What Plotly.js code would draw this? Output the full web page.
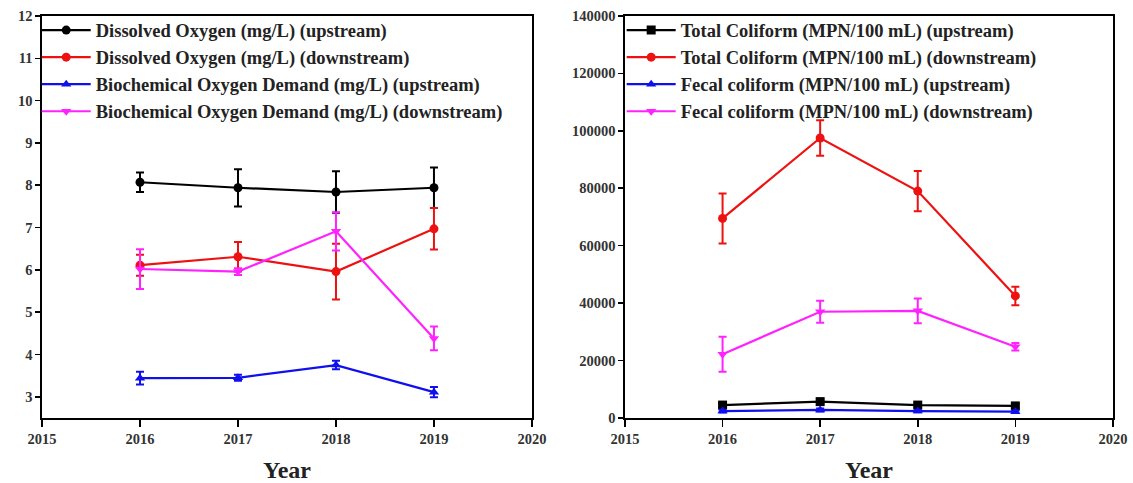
<!DOCTYPE html>
<html>
<head>
<meta charset="utf-8">
<script src="https://cdn.plot.ly/plotly-3.0.1.min.js"></script>
<style>
  html, body { margin: 0; padding: 0; background: #fff; }
  #chart { width: 1133px; height: 483px; }
</style>
</head>
<body>
<div id="chart"></div>
<script>
// Sampling years
const years = [2016, 2017, 2018, 2019];

// Left panel: oxygen parameters (mg/L), mean and standard deviation
const doUp      = [8.07, 7.94, 7.84, 7.94];
const doUpErr   = [0.23, 0.44, 0.49, 0.48];
const doDown    = [6.11, 6.31, 5.96, 6.97];
const doDownErr = [0.25, 0.35, 0.66, 0.49];
const bodUp      = [3.44, 3.45, 3.75, 3.11];
const bodUpErr   = [0.15, 0.07, 0.10, 0.12];
const bodDown    = [6.02, 5.96, 6.91, 4.38];
const bodDownErr = [0.47, 0.08, 0.45, 0.28];

// Right panel: coliform counts (MPN/100 mL), mean and standard deviation
const tcUp      = [4500, 5700, 4500, 4200];
const tcUpErr   = [700, 800, 600, 600];
const tcDown    = [69500, 97500, 79000, 42500];
const tcDownErr = [8700, 6200, 7000, 3200];
const fcUp      = [2400, 2800, 2400, 2200];
const fcUpErr   = [500, 500, 400, 400];
const fcDown    = [22200, 37000, 37300, 24800];
const fcDownErr = [6100, 3800, 4300, 1300];

const FONT = 'Liberation Serif, Times New Roman, serif';
const COL = { black: '#000000', red: '#ee1111', blue: '#1010ee', magenta: '#ff22ff' };

function series(name, y, err, color, symbol, xa, ya, legend) {
  return {
    type: 'scatter', mode: 'lines+markers', name: name,
    x: years, y: y, xaxis: xa, yaxis: ya, legend: legend,
    line: { color: color, width: 2.2 },
    marker: { color: color, symbol: symbol, size: 9 },
    error_y: { type: 'data', array: err, visible: true, color: color, thickness: 2, width: 4 }
  };
}

const traces = [
  series('Dissolved Oxygen (mg/L) (upstream)', doUp, doUpErr, COL.black, 'circle', 'x', 'y', 'legend'),
  series('Dissolved Oxygen (mg/L) (downstream)', doDown, doDownErr, COL.red, 'circle', 'x', 'y', 'legend'),
  series('Biochemical Oxygen Demand (mg/L) (upstream)', bodUp, bodUpErr, COL.blue, 'triangle-up', 'x', 'y', 'legend'),
  series('Biochemical Oxygen Demand (mg/L) (downstream)', bodDown, bodDownErr, COL.magenta, 'triangle-down', 'x', 'y', 'legend'),
  series('Total Coliform (MPN/100 mL) (upstream)', tcUp, tcUpErr, COL.black, 'square', 'x2', 'y2', 'legend2'),
  series('Total Coliform (MPN/100 mL) (downstream)', tcDown, tcDownErr, COL.red, 'circle', 'x2', 'y2', 'legend2'),
  series('Fecal coliform (MPN/100 mL) (upstream)', fcUp, fcUpErr, COL.blue, 'triangle-up', 'x2', 'y2', 'legend2'),
  series('Fecal coliform (MPN/100 mL) (downstream)', fcDown, fcDownErr, COL.magenta, 'triangle-down', 'x2', 'y2', 'legend2')
];

const tickFont = { family: FONT, size: 14.5, color: '#333', weight: 'bold' };
const titleFont = { family: FONT, size: 24, color: '#222', weight: 'bold' };

function xAxis(domain, anchor) {
  return {
    domain: domain, anchor: anchor, range: [2015, 2020], dtick: 1, tick0: 2015,
    ticks: 'outside', ticklen: 7, tickwidth: 1.5, tickcolor: '#000',
    showline: true, linecolor: '#000', linewidth: 1.6, mirror: true,
    showgrid: false, zeroline: false, automargin: false,
    tickfont: tickFont, tickformat: 'd',
    title: { text: 'Year', font: titleFont, standoff: 16 }
  };
}
function yAxis(range, dtick, anchor) {
  return {
    domain: [0.1346, 0.967], anchor: anchor, range: range, dtick: dtick, tick0: 0,
    ticks: 'outside', ticklen: 5, tickwidth: 1.5, tickcolor: '#000',
    showline: true, linecolor: '#000', linewidth: 1.6, mirror: true,
    showgrid: false, zeroline: false, automargin: false,
    tickfont: tickFont, tickformat: 'd'
  };
}

const legendBase = {
  yanchor: 'top', xanchor: 'left', bgcolor: 'rgba(0,0,0,0)', borderwidth: 0,
  font: { family: FONT, size: 18.5, color: '#222', weight: 'bold' },
  tracegroupgap: 0, itemwidth: 49
};

const layout = {
  width: 1133, height: 483,
  margin: { l: 0, r: 0, t: 0, b: 0 },
  paper_bgcolor: '#fff', plot_bgcolor: '#fff',
  showlegend: true,
  xaxis: xAxis([0.0371, 0.4695], 'y'),
  yaxis: yAxis([2.5, 12], 1, 'x'),
  xaxis2: xAxis([0.5516, 0.9823], 'y2'),
  yaxis2: yAxis([0, 140000], 20000, 'x2'),
  legend: Object.assign({}, legendBase, { x: 0.0324, y: 0.976 }),
  legend2: Object.assign({}, legendBase, { x: 0.5487, y: 0.976 })
};

Plotly.newPlot('chart', traces, layout, { staticPlot: true, displayModeBar: false });
</script>
</body>
</html>
